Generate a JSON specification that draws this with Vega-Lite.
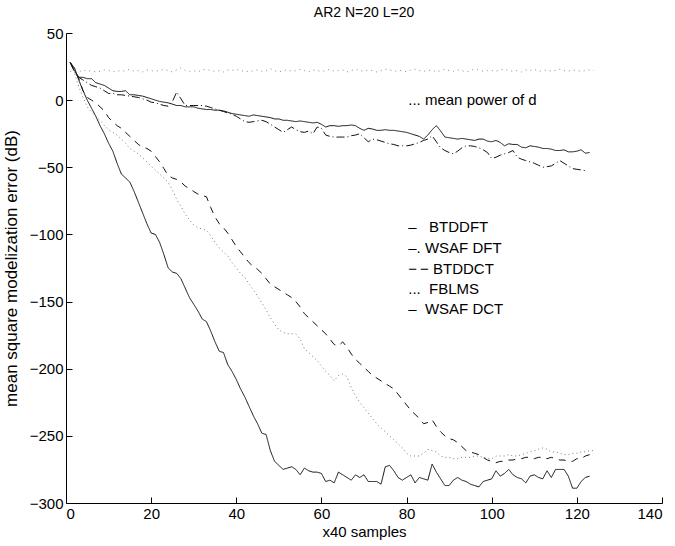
{
  "$schema": "https://vega.github.io/schema/vega-lite/v6.json",
  "width": 596,
  "height": 470,
  "autosize": {"type": "none"},
  "padding": {"left": 66, "top": 33, "right": 13, "bottom": 43},
  "background": "white",
  "config": {
    "view": {"stroke": null},
    "font": "Liberation Sans",
    "axis": {"domainColor": "black", "tickColor": "black", "labelColor": "black", "titleColor": "black", "labelFont": "Liberation Sans", "titleFont": "Liberation Sans", "labelFontSize": 15, "titleFontSize": 15, "titleFontWeight": "normal", "grid": false, "tickSize": -6, "tickWidth": 1, "labelPadding": 9}
  },
  "title": {"text": "AR2 N=20 L=20", "fontSize": 14, "fontWeight": "normal", "font": "Liberation Sans", "color": "black", "anchor": "middle", "offset": 6},
  "data": {"values": [
    {"x":1,"BTDDFT":28,"WSAF DFT":28,"BTDDCT":28,"FBLMS":28,"WSAF DCT":28,"mean":21.5},
    {"x":2,"BTDDFT":22,"WSAF DFT":21,"BTDDCT":22,"FBLMS":20,"WSAF DCT":24,"mean":22},
    {"x":3,"BTDDFT":17,"WSAF DFT":17,"BTDDCT":16,"FBLMS":10,"WSAF DCT":15,"mean":21},
    {"x":4,"BTDDFT":17,"WSAF DFT":15,"BTDDCT":7,"FBLMS":2,"WSAF DCT":7,"mean":22.5},
    {"x":5,"BTDDFT":16,"WSAF DFT":13,"BTDDCT":2,"FBLMS":-5,"WSAF DCT":0,"mean":21.5},
    {"x":6,"BTDDFT":16,"WSAF DFT":11,"BTDDCT":0,"FBLMS":-9,"WSAF DCT":-6,"mean":22},
    {"x":7,"BTDDFT":13,"WSAF DFT":10,"BTDDCT":-2,"FBLMS":-12,"WSAF DCT":-12,"mean":21},
    {"x":8,"BTDDFT":12,"WSAF DFT":9,"BTDDCT":-5,"FBLMS":-15,"WSAF DCT":-19,"mean":21.5},
    {"x":9,"BTDDFT":11,"WSAF DFT":7,"BTDDCT":-8,"FBLMS":-19,"WSAF DCT":-25,"mean":22.5},
    {"x":10,"BTDDFT":9,"WSAF DFT":5,"BTDDCT":-13,"FBLMS":-22,"WSAF DCT":-32,"mean":22},
    {"x":11,"BTDDFT":7,"WSAF DFT":5,"BTDDCT":-16,"FBLMS":-24,"WSAF DCT":-38,"mean":21},
    {"x":12,"BTDDFT":6.5,"WSAF DFT":4,"BTDDCT":-19,"FBLMS":-26,"WSAF DCT":-47,"mean":22},
    {"x":13,"BTDDFT":6.5,"WSAF DFT":4,"BTDDCT":-21,"FBLMS":-29,"WSAF DCT":-55,"mean":21.5},
    {"x":14,"BTDDFT":7,"WSAF DFT":3.5,"BTDDCT":-24,"FBLMS":-32,"WSAF DCT":-58,"mean":22},
    {"x":15,"BTDDFT":4,"WSAF DFT":3,"BTDDCT":-27,"FBLMS":-36,"WSAF DCT":-61,"mean":23},
    {"x":16,"BTDDFT":4,"WSAF DFT":2.5,"BTDDCT":-30,"FBLMS":-38,"WSAF DCT":-68,"mean":21.5},
    {"x":17,"BTDDFT":3.5,"WSAF DFT":2,"BTDDCT":-33,"FBLMS":-40,"WSAF DCT":-76,"mean":22},
    {"x":18,"BTDDFT":3,"WSAF DFT":1,"BTDDCT":-35,"FBLMS":-43,"WSAF DCT":-84,"mean":21},
    {"x":19,"BTDDFT":2,"WSAF DFT":0,"BTDDCT":-36,"FBLMS":-46,"WSAF DCT":-92,"mean":22.5},
    {"x":20,"BTDDFT":1,"WSAF DFT":-1.5,"BTDDCT":-38,"FBLMS":-49,"WSAF DCT":-99,"mean":22},
    {"x":21,"BTDDFT":0,"WSAF DFT":-2,"BTDDCT":-42,"FBLMS":-52,"WSAF DCT":-100,"mean":21.5},
    {"x":22,"BTDDFT":-1,"WSAF DFT":-3,"BTDDCT":-46,"FBLMS":-55,"WSAF DCT":-106,"mean":22},
    {"x":23,"BTDDFT":-1.5,"WSAF DFT":-4,"BTDDCT":-51,"FBLMS":-58,"WSAF DCT":-115,"mean":23},
    {"x":24,"BTDDFT":-2,"WSAF DFT":-4.5,"BTDDCT":-56,"FBLMS":-61,"WSAF DCT":-125,"mean":22},
    {"x":25,"BTDDFT":-3,"WSAF DFT":-1,"BTDDCT":-58,"FBLMS":-67,"WSAF DCT":-128,"mean":21},
    {"x":26,"BTDDFT":-4,"WSAF DFT":6,"BTDDCT":-59,"FBLMS":-74,"WSAF DCT":-129,"mean":22.5},
    {"x":27,"BTDDFT":-4,"WSAF DFT":1,"BTDDCT":-61,"FBLMS":-79,"WSAF DCT":-133,"mean":24},
    {"x":28,"BTDDFT":-5,"WSAF DFT":-4,"BTDDCT":-64,"FBLMS":-85,"WSAF DCT":-140,"mean":22},
    {"x":29,"BTDDFT":-5,"WSAF DFT":-4,"BTDDCT":-66,"FBLMS":-89,"WSAF DCT":-147,"mean":21.5},
    {"x":30,"BTDDFT":-5,"WSAF DFT":-4,"BTDDCT":-68,"FBLMS":-93,"WSAF DCT":-152,"mean":22},
    {"x":31,"BTDDFT":-6,"WSAF DFT":-4,"BTDDCT":-70,"FBLMS":-95,"WSAF DCT":-157,"mean":21},
    {"x":32,"BTDDFT":-6.5,"WSAF DFT":-4,"BTDDCT":-71,"FBLMS":-96,"WSAF DCT":-163,"mean":22.5},
    {"x":33,"BTDDFT":-7,"WSAF DFT":-4.5,"BTDDCT":-72,"FBLMS":-97,"WSAF DCT":-165,"mean":23},
    {"x":34,"BTDDFT":-7,"WSAF DFT":-5.5,"BTDDCT":-80,"FBLMS":-101,"WSAF DCT":-172,"mean":22},
    {"x":35,"BTDDFT":-7.5,"WSAF DFT":-6.5,"BTDDCT":-87,"FBLMS":-106,"WSAF DCT":-180,"mean":21.5},
    {"x":36,"BTDDFT":-7.5,"WSAF DFT":-7.5,"BTDDCT":-92,"FBLMS":-110,"WSAF DCT":-187,"mean":22},
    {"x":37,"BTDDFT":-8,"WSAF DFT":-8.5,"BTDDCT":-95,"FBLMS":-113,"WSAF DCT":-188,"mean":21},
    {"x":38,"BTDDFT":-9,"WSAF DFT":-9.5,"BTDDCT":-99,"FBLMS":-116,"WSAF DCT":-197,"mean":22.5},
    {"x":39,"BTDDFT":-10,"WSAF DFT":-10.5,"BTDDCT":-104,"FBLMS":-121,"WSAF DCT":-202,"mean":22},
    {"x":40,"BTDDFT":-10.5,"WSAF DFT":-12,"BTDDCT":-109,"FBLMS":-125,"WSAF DCT":-208,"mean":23},
    {"x":41,"BTDDFT":-11,"WSAF DFT":-14,"BTDDCT":-113,"FBLMS":-129,"WSAF DCT":-215,"mean":21.5},
    {"x":42,"BTDDFT":-11.5,"WSAF DFT":-16,"BTDDCT":-117,"FBLMS":-132,"WSAF DCT":-221,"mean":22},
    {"x":43,"BTDDFT":-12,"WSAF DFT":-16.5,"BTDDCT":-121,"FBLMS":-137,"WSAF DCT":-228,"mean":21},
    {"x":44,"BTDDFT":-11,"WSAF DFT":-16,"BTDDCT":-124,"FBLMS":-141,"WSAF DCT":-235,"mean":22},
    {"x":45,"BTDDFT":-11.5,"WSAF DFT":-15.5,"BTDDCT":-126,"FBLMS":-146,"WSAF DCT":-241,"mean":22.5},
    {"x":46,"BTDDFT":-12,"WSAF DFT":-15,"BTDDCT":-129,"FBLMS":-151,"WSAF DCT":-248,"mean":21.5},
    {"x":47,"BTDDFT":-12.5,"WSAF DFT":-16,"BTDDCT":-133,"FBLMS":-156,"WSAF DCT":-249,"mean":22},
    {"x":48,"BTDDFT":-13,"WSAF DFT":-18,"BTDDCT":-137,"FBLMS":-162,"WSAF DCT":-261,"mean":23.5},
    {"x":49,"BTDDFT":-14,"WSAF DFT":-20,"BTDDCT":-139,"FBLMS":-167,"WSAF DCT":-269,"mean":22},
    {"x":50,"BTDDFT":-14,"WSAF DFT":-22,"BTDDCT":-141,"FBLMS":-171,"WSAF DCT":-272,"mean":21},
    {"x":51,"BTDDFT":-15,"WSAF DFT":-24,"BTDDCT":-143,"FBLMS":-173,"WSAF DCT":-275,"mean":22},
    {"x":52,"BTDDFT":-15,"WSAF DFT":-22,"BTDDCT":-145,"FBLMS":-174,"WSAF DCT":-274,"mean":22.5},
    {"x":53,"BTDDFT":-15.5,"WSAF DFT":-20,"BTDDCT":-147,"FBLMS":-174,"WSAF DCT":-273,"mean":21.5},
    {"x":54,"BTDDFT":-16,"WSAF DFT":-22,"BTDDCT":-150,"FBLMS":-174,"WSAF DCT":-275,"mean":22},
    {"x":55,"BTDDFT":-15.5,"WSAF DFT":-23.5,"BTDDCT":-154,"FBLMS":-178,"WSAF DCT":-279,"mean":23},
    {"x":56,"BTDDFT":-16,"WSAF DFT":-24,"BTDDCT":-159,"FBLMS":-185,"WSAF DCT":-274,"mean":22},
    {"x":57,"BTDDFT":-16.5,"WSAF DFT":-23,"BTDDCT":-162,"FBLMS":-188,"WSAF DCT":-276,"mean":21},
    {"x":58,"BTDDFT":-17,"WSAF DFT":-25,"BTDDCT":-165,"FBLMS":-191,"WSAF DCT":-277,"mean":22.5},
    {"x":59,"BTDDFT":-16.5,"WSAF DFT":-20,"BTDDCT":-168,"FBLMS":-194,"WSAF DCT":-277,"mean":22},
    {"x":60,"BTDDFT":-18,"WSAF DFT":-21,"BTDDCT":-171,"FBLMS":-198,"WSAF DCT":-278,"mean":21.5},
    {"x":61,"BTDDFT":-20,"WSAF DFT":-26,"BTDDCT":-174,"FBLMS":-202,"WSAF DCT":-284,"mean":22},
    {"x":62,"BTDDFT":-19,"WSAF DFT":-27,"BTDDCT":-178,"FBLMS":-205,"WSAF DCT":-283,"mean":23},
    {"x":63,"BTDDFT":-19,"WSAF DFT":-27.5,"BTDDCT":-182,"FBLMS":-209,"WSAF DCT":-285,"mean":21.5},
    {"x":64,"BTDDFT":-19.5,"WSAF DFT":-27.5,"BTDDCT":-183,"FBLMS":-205,"WSAF DCT":-277,"mean":22},
    {"x":65,"BTDDFT":-19,"WSAF DFT":-27.5,"BTDDCT":-180,"FBLMS":-204,"WSAF DCT":-279,"mean":22.5},
    {"x":66,"BTDDFT":-19,"WSAF DFT":-27.5,"BTDDCT":-184,"FBLMS":-206,"WSAF DCT":-281,"mean":21},
    {"x":67,"BTDDFT":-18.5,"WSAF DFT":-26.5,"BTDDCT":-189,"FBLMS":-214,"WSAF DCT":-283,"mean":22},
    {"x":68,"BTDDFT":-19,"WSAF DFT":-26,"BTDDCT":-193,"FBLMS":-220,"WSAF DCT":-279,"mean":23},
    {"x":69,"BTDDFT":-21,"WSAF DFT":-25,"BTDDCT":-196,"FBLMS":-225,"WSAF DCT":-281,"mean":22},
    {"x":70,"BTDDFT":-22.5,"WSAF DFT":-28,"BTDDCT":-199,"FBLMS":-229,"WSAF DCT":-279,"mean":21.5},
    {"x":71,"BTDDFT":-21,"WSAF DFT":-31,"BTDDCT":-202,"FBLMS":-233,"WSAF DCT":-284,"mean":22.5},
    {"x":72,"BTDDFT":-21.5,"WSAF DFT":-29,"BTDDCT":-205,"FBLMS":-237,"WSAF DCT":-284,"mean":22},
    {"x":73,"BTDDFT":-22.5,"WSAF DFT":-29.5,"BTDDCT":-207,"FBLMS":-241,"WSAF DCT":-284,"mean":21},
    {"x":74,"BTDDFT":-22.5,"WSAF DFT":-30.5,"BTDDCT":-209,"FBLMS":-244,"WSAF DCT":-286,"mean":22},
    {"x":75,"BTDDFT":-22,"WSAF DFT":-31.5,"BTDDCT":-211,"FBLMS":-247,"WSAF DCT":-273,"mean":23},
    {"x":76,"BTDDFT":-22.5,"WSAF DFT":-32.5,"BTDDCT":-213,"FBLMS":-250,"WSAF DCT":-272,"mean":22.5},
    {"x":77,"BTDDFT":-22.5,"WSAF DFT":-33,"BTDDCT":-215,"FBLMS":-253,"WSAF DCT":-276,"mean":21.5},
    {"x":78,"BTDDFT":-23,"WSAF DFT":-34,"BTDDCT":-219,"FBLMS":-256,"WSAF DCT":-281,"mean":22},
    {"x":79,"BTDDFT":-23.5,"WSAF DFT":-34,"BTDDCT":-223,"FBLMS":-259,"WSAF DCT":-283,"mean":22},
    {"x":80,"BTDDFT":-24,"WSAF DFT":-34,"BTDDCT":-227,"FBLMS":-263,"WSAF DCT":-281,"mean":21},
    {"x":81,"BTDDFT":-25,"WSAF DFT":-33.5,"BTDDCT":-231,"FBLMS":-265,"WSAF DCT":-279,"mean":22.5},
    {"x":82,"BTDDFT":-26,"WSAF DFT":-32.5,"BTDDCT":-234,"FBLMS":-265,"WSAF DCT":-285,"mean":23},
    {"x":83,"BTDDFT":-27,"WSAF DFT":-31.5,"BTDDCT":-237,"FBLMS":-265,"WSAF DCT":-281,"mean":22},
    {"x":84,"BTDDFT":-29,"WSAF DFT":-30,"BTDDCT":-241,"FBLMS":-263,"WSAF DCT":-282,"mean":21.5},
    {"x":85,"BTDDFT":-26,"WSAF DFT":-29,"BTDDCT":-240,"FBLMS":-260,"WSAF DCT":-283,"mean":22},
    {"x":86,"BTDDFT":-22,"WSAF DFT":-26.5,"BTDDCT":-238,"FBLMS":-261,"WSAF DCT":-271,"mean":22.5},
    {"x":87,"BTDDFT":-19,"WSAF DFT":-31,"BTDDCT":-243,"FBLMS":-262,"WSAF DCT":-277,"mean":21},
    {"x":88,"BTDDFT":-23,"WSAF DFT":-35.5,"BTDDCT":-247,"FBLMS":-265,"WSAF DCT":-282,"mean":22},
    {"x":89,"BTDDFT":-27.5,"WSAF DFT":-37.5,"BTDDCT":-250,"FBLMS":-266,"WSAF DCT":-287,"mean":23},
    {"x":90,"BTDDFT":-28,"WSAF DFT":-39,"BTDDCT":-252,"FBLMS":-266,"WSAF DCT":-287,"mean":22},
    {"x":91,"BTDDFT":-28.5,"WSAF DFT":-40,"BTDDCT":-253,"FBLMS":-267,"WSAF DCT":-283,"mean":21.5},
    {"x":92,"BTDDFT":-29,"WSAF DFT":-38,"BTDDCT":-255,"FBLMS":-267,"WSAF DCT":-281,"mean":22.5},
    {"x":93,"BTDDFT":-28.5,"WSAF DFT":-35.5,"BTDDCT":-258,"FBLMS":-266,"WSAF DCT":-283,"mean":22},
    {"x":94,"BTDDFT":-29,"WSAF DFT":-34,"BTDDCT":-261,"FBLMS":-266,"WSAF DCT":-284,"mean":21},
    {"x":95,"BTDDFT":-29.5,"WSAF DFT":-34,"BTDDCT":-262,"FBLMS":-266,"WSAF DCT":-286,"mean":22},
    {"x":96,"BTDDFT":-30,"WSAF DFT":-34.5,"BTDDCT":-263,"FBLMS":-265,"WSAF DCT":-287,"mean":23},
    {"x":97,"BTDDFT":-29,"WSAF DFT":-35.5,"BTDDCT":-264,"FBLMS":-265,"WSAF DCT":-288,"mean":22.5},
    {"x":98,"BTDDFT":-29,"WSAF DFT":-37,"BTDDCT":-266,"FBLMS":-266,"WSAF DCT":-284,"mean":21.5},
    {"x":99,"BTDDFT":-30.5,"WSAF DFT":-39,"BTDDCT":-268,"FBLMS":-267,"WSAF DCT":-283,"mean":22},
    {"x":100,"BTDDFT":-31,"WSAF DFT":-43.5,"BTDDCT":-269,"FBLMS":-267,"WSAF DCT":-282,"mean":22},
    {"x":101,"BTDDFT":-30,"WSAF DFT":-42.5,"BTDDCT":-270,"FBLMS":-265,"WSAF DCT":-276,"mean":21.5},
    {"x":102,"BTDDFT":-31.5,"WSAF DFT":-41,"BTDDCT":-269,"FBLMS":-265,"WSAF DCT":-280,"mean":22.5},
    {"x":103,"BTDDFT":-34,"WSAF DFT":-40,"BTDDCT":-269,"FBLMS":-265,"WSAF DCT":-278,"mean":23},
    {"x":104,"BTDDFT":-32.5,"WSAF DFT":-39,"BTDDCT":-268,"FBLMS":-264,"WSAF DCT":-275,"mean":22},
    {"x":105,"BTDDFT":-33,"WSAF DFT":-37.5,"BTDDCT":-268,"FBLMS":-265,"WSAF DCT":-279,"mean":21.5},
    {"x":106,"BTDDFT":-33,"WSAF DFT":-42.5,"BTDDCT":-267,"FBLMS":-265,"WSAF DCT":-281,"mean":22},
    {"x":107,"BTDDFT":-35,"WSAF DFT":-44,"BTDDCT":-267,"FBLMS":-264,"WSAF DCT":-282,"mean":21},
    {"x":108,"BTDDFT":-35.5,"WSAF DFT":-45,"BTDDCT":-266,"FBLMS":-263,"WSAF DCT":-285,"mean":22.5},
    {"x":109,"BTDDFT":-34,"WSAF DFT":-46,"BTDDCT":-266,"FBLMS":-262,"WSAF DCT":-280,"mean":22},
    {"x":110,"BTDDFT":-34.5,"WSAF DFT":-47,"BTDDCT":-267,"FBLMS":-261,"WSAF DCT":-279,"mean":23},
    {"x":111,"BTDDFT":-35,"WSAF DFT":-48.5,"BTDDCT":-266,"FBLMS":-260,"WSAF DCT":-281,"mean":21.5},
    {"x":112,"BTDDFT":-36,"WSAF DFT":-50,"BTDDCT":-266,"FBLMS":-259,"WSAF DCT":-282,"mean":22},
    {"x":113,"BTDDFT":-36,"WSAF DFT":-49.5,"BTDDCT":-267,"FBLMS":-260,"WSAF DCT":-276,"mean":22.5},
    {"x":114,"BTDDFT":-36.5,"WSAF DFT":-49,"BTDDCT":-266,"FBLMS":-262,"WSAF DCT":-281,"mean":21.5},
    {"x":115,"BTDDFT":-37.5,"WSAF DFT":-47,"BTDDCT":-267,"FBLMS":-262,"WSAF DCT":-275,"mean":22},
    {"x":116,"BTDDFT":-37.5,"WSAF DFT":-45,"BTDDCT":-268,"FBLMS":-263,"WSAF DCT":-275,"mean":23},
    {"x":117,"BTDDFT":-37,"WSAF DFT":-47,"BTDDCT":-268,"FBLMS":-264,"WSAF DCT":-275,"mean":22},
    {"x":118,"BTDDFT":-38.5,"WSAF DFT":-49,"BTDDCT":-269,"FBLMS":-264,"WSAF DCT":-280,"mean":21.5},
    {"x":119,"BTDDFT":-38.5,"WSAF DFT":-51,"BTDDCT":-269,"FBLMS":-263,"WSAF DCT":-289,"mean":22.5},
    {"x":120,"BTDDFT":-38,"WSAF DFT":-51.5,"BTDDCT":-267,"FBLMS":-263,"WSAF DCT":-289,"mean":22},
    {"x":121,"BTDDFT":-37,"WSAF DFT":-52,"BTDDCT":-267,"FBLMS":-262,"WSAF DCT":-284,"mean":21.5},
    {"x":122,"BTDDFT":-39.5,"WSAF DFT":-52.5,"BTDDCT":-265,"FBLMS":-262,"WSAF DCT":-281,"mean":22},
    {"x":123,"BTDDFT":-39,"WSAF DFT":null,"BTDDCT":-264,"FBLMS":-261,"WSAF DCT":-280,"mean":22.5},
    {"x":124,"BTDDFT":null,"WSAF DFT":null,"BTDDCT":null,"FBLMS":-261,"WSAF DCT":null,"mean":22}
  ]},
  "layer": [
    {
      "transform": [
        {"fold": ["mean", "FBLMS", "BTDDCT", "WSAF DFT", "BTDDFT", "WSAF DCT"], "as": ["series", "value"]},
        {"filter": "datum.value != null"}
      ],
      "mark": {"type": "line", "strokeWidth": 1, "clip": true},
      "encoding": {
        "x": {"field": "x", "type": "quantitative", "scale": {"domain": [0, 140], "nice": false}, "axis": {"values": [0, 20, 40, 60, 80, 100, 120, 140], "title": "x40 samples", "titlePadding": 3}},
        "y": {"field": "value", "type": "quantitative", "scale": {"domain": [-300, 50], "nice": false}, "axis": {"values": [-300, -250, -200, -150, -100, -50, 0, 50], "title": "mean square modelization error (dB)", "titleFontSize": 17, "titlePadding": 9}},
        "detail": {"field": "series"},
        "color": {"field": "series", "type": "nominal", "legend": null, "scale": {"domain": ["mean", "FBLMS", "BTDDCT", "WSAF DFT", "BTDDFT", "WSAF DCT"], "range": ["#8a8a8a", "#7a7a7a", "#111111", "#111111", "#111111", "#111111"]}},
        "strokeDash": {"field": "series", "type": "nominal", "legend": null, "scale": {"domain": ["mean", "FBLMS", "BTDDCT", "WSAF DFT", "BTDDFT", "WSAF DCT"], "range": [[1, 4], [1, 3], [7, 6], [8, 3, 1, 3], [1, 0], [1, 0]]}}
      }
    },
    {"data": {"values": [{}]}, "mark": {"type": "text", "align": "left", "baseline": "middle", "fontSize": 15, "font": "Liberation Sans", "color": "black"},
     "encoding": {"x": {"datum": 80.4}, "y": {"datum": 0}, "text": {"value": "... mean power of d"}}},
    {"data": {"values": [{}]}, "mark": {"type": "text", "align": "left", "baseline": "middle", "fontSize": 15, "font": "Liberation Sans", "color": "black"},
     "encoding": {"x": {"datum": 80.4}, "y": {"datum": -94.6}, "text": {"value": "–\u00a0\u00a0\u00a0BTDDFT"}}},
    {"data": {"values": [{}]}, "mark": {"type": "text", "align": "left", "baseline": "middle", "fontSize": 15, "font": "Liberation Sans", "color": "black"},
     "encoding": {"x": {"datum": 80.4}, "y": {"datum": -110.3}, "text": {"value": "–. WSAF DFT"}}},
    {"data": {"values": [{}]}, "mark": {"type": "text", "align": "left", "baseline": "middle", "fontSize": 15, "font": "Liberation Sans", "color": "black"},
     "encoding": {"x": {"datum": 80.4}, "y": {"datum": -125.5}, "text": {"value": "−\u2009− BTDDCT"}}},
    {"data": {"values": [{}]}, "mark": {"type": "text", "align": "left", "baseline": "middle", "fontSize": 15, "font": "Liberation Sans", "color": "black"},
     "encoding": {"x": {"datum": 80.4}, "y": {"datum": -141}, "text": {"value": "...\u00a0\u00a0FBLMS"}}},
    {"data": {"values": [{}]}, "mark": {"type": "text", "align": "left", "baseline": "middle", "fontSize": 15, "font": "Liberation Sans", "color": "black"},
     "encoding": {"x": {"datum": 80.4}, "y": {"datum": -155.6}, "text": {"value": "–\u00a0\u00a0WSAF DCT"}}}
  ]
}
